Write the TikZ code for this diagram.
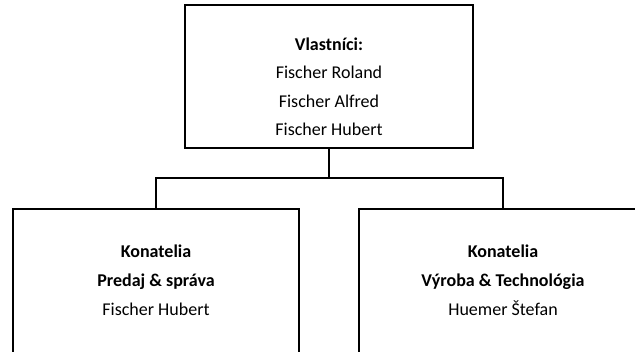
\documentclass[tikz,border=0pt]{standalone}
\usepackage{fontspec}
\setmainfont{Carlito}
\begin{document}
\begin{tikzpicture}[x=1pt,y=-1pt,
  box/.style={draw=black,line width=2.8pt,rectangle,inner sep=0pt,outer sep=0pt},
  conn/.style={draw=black,line width=2.8pt},
  txt/.style={anchor=base,inner sep=0pt,font=\fontsize{18}{22}\selectfont},
  btxt/.style={txt,font=\fontsize{18}{22}\selectfont\bfseries}]
\useasboundingbox (0,0) rectangle (635,351);
\clip (0,0) rectangle (635,351);
\fill[white] (0,0) rectangle (635,351);
\node[box,minimum width=288pt,minimum height=143pt] (top) at (329,76.5) {};
\node[box,minimum width=286pt,minimum height=171pt] (left) at (156,294.5) {};
\node[box,minimum width=288pt,minimum height=171pt] (right) at (503,294.5) {};
\coordinate (j) at (329,178);
\draw[conn] (top.south) -- (j);
\draw[conn] (left.north) -- (left.north |- j) -- (right.north |- j) -- (right.north);
\node[btxt] (t1) at (329,50) {Vlastníci:};
\node[txt] (t2) at (329,78.5) {Fischer Roland};
\node[txt] (t3) at (329,107) {Fischer Alfred};
\node[txt] (t4) at (329,135.5) {Fischer Hubert};
\node[btxt] (l1) at (156,257) {Konatelia};
\node[btxt] (l2) at (156,286) {Predaj \& správa};
\node[txt] (l3) at (156,315) {Fischer Hubert};
\node[btxt] (r1) at (503,257) {Konatelia};
\node[btxt] (r2) at (503,286) {Výroba \& Technológia};
\node[txt] (r3) at (503,315) {Huemer Štefan};
\end{tikzpicture}
\end{document}
